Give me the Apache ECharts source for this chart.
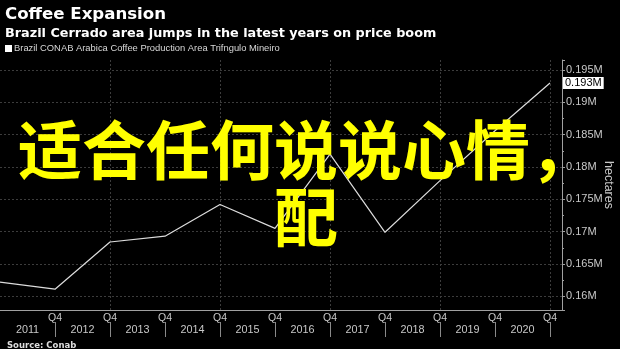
<!DOCTYPE html>
<html>
<head>
<meta charset="utf-8">
<script src="https://cdn.jsdelivr.net/npm/echarts@6/dist/echarts.min.js"></script>
<style>
html,body{margin:0;padding:0;background:#000;}
#c{width:620px;height:349px;}
</style>
</head>
<body>
<div id="c"></div>
<script>
// Data (Q4 of each year), million hectares
const years = [2010, 2011, 2012, 2013, 2014, 2015, 2016, 2017, 2018, 2019, 2020];
const areaValues = [0.1622, 0.1611, 0.1684, 0.1693, 0.1742, 0.1705, 0.1820, 0.1699, 0.1779, 0.1856, 0.1930];
const quarterTickYears = [2011, 2012, 2013, 2014, 2015, 2016, 2017, 2018, 2019, 2020];
const yearLabelPositions = [2010.5, 2011.5, 2012.5, 2013.5, 2014.5, 2015.5, 2016.5, 2017.5, 2018.5, 2019.5];
const yTickValues = [0.16, 0.165, 0.17, 0.175, 0.18, 0.185, 0.19, 0.195];
const seriesName = 'Brazil CONAB Arabica Coffee Production Area Trifngulo Mineiro';
const titleText = 'Coffee Expansion';
const subtitleText = 'Brazil Cerrado area jumps in the latest years on price boom';
const sourceText = 'Source: Conab';
const overlayText = '适合任何说说心情，\n配';

const X_MIN = 2010, X_MAX = 2020.218;
const Y_MIN = 0.15788, Y_MAX = 0.19655;

const fmtM = v => String(+(+v).toFixed(3)) + 'M';
const lastValue = areaValues[areaValues.length - 1];

const chart = echarts.init(document.getElementById('c'), null, {renderer: 'canvas'});
const gridCol = '#3c3c3c';
const axisCol = '#a0a0a0';
const txtCol = '#c8c8c8';

chart.setOption({
  backgroundColor: '#000',
  animation: false,
  title: [
    {text: titleText, left: 0, top: 1, textStyle: {color: '#fff', fontFamily: 'DejaVu Sans', fontWeight: 'bold', fontSize: 16.6}},
    {text: subtitleText, left: 0, top: 22, textStyle: {color: '#fff', fontFamily: 'DejaVu Sans', fontWeight: 'bold', fontSize: 12.8}},
    {text: sourceText, left: 2, top: 336, textStyle: {color: '#ddd', fontFamily: 'DejaVu Sans', fontWeight: 'bold', fontSize: 8.5}}
  ],
  legend: {
    left: 2, top: 44, icon: 'rect', itemWidth: 7, itemHeight: 7, itemGap: 4,
    padding: [0, 0, 0, 3],
    textStyle: {color: '#d8d8d8', fontFamily: 'Liberation Sans', fontSize: 9.4, padding: [0, 0, 0, -3]},
    data: [{name: seriesName, itemStyle: {color: '#fff'}}]
  },
  grid: {left: 0, right: 58, top: 60, bottom: 39, containLabel: false, outerBoundsMode: 'none'},
  xAxis: [
    {
      type: 'value', min: X_MIN, max: X_MAX, position: 'bottom',
      axisLine: {show: true, lineStyle: {color: axisCol, width: 1}},
      axisTick: {show: false},
      axisLabel: {color: txtCol, fontFamily: 'Liberation Sans', fontSize: 10.5, margin: 3,
        customValues: quarterTickYears, formatter: () => 'Q4'},
      splitLine: {show: true, showMinLine: false, showMaxLine: false, lineStyle: {color: gridCol, type: [2, 2], width: 1}}
    },
    {
      type: 'value', min: X_MIN, max: X_MAX, position: 'bottom', offset: 12,
      axisLine: {show: false},
      axisTick: {show: true, inside: false, length: 15, customValues: quarterTickYears, lineStyle: {color: '#8a8a8a'}},
      axisLabel: {color: txtCol, fontFamily: 'Liberation Sans', fontSize: 10.8, margin: 3,
        customValues: yearLabelPositions, formatter: v => String(Math.round(v + 0.5))},
      splitLine: {show: false}
    }
  ],
  yAxis: {
    type: 'value', min: Y_MIN, max: Y_MAX, position: 'right', splitNumber: 8,
    name: 'hectares', nameLocation: 'middle', nameRotate: -90, nameGap: 40, nameMoveOverlap: false,
    nameTextStyle: {color: txtCol, fontFamily: 'Liberation Sans', fontSize: 12.5},
    axisLine: {show: true, lineStyle: {color: axisCol, width: 1}},
    axisTick: {show: true, inside: false, length: 3, lineStyle: {color: axisCol}},
    minorTick: {show: true, splitNumber: 2, length: 2, lineStyle: {color: axisCol}},
    axisLabel: {color: txtCol, fontFamily: 'Liberation Sans', fontSize: 11, margin: 4,
      customValues: yTickValues, formatter: fmtM},
    splitLine: {show: true, showMinLine: false, showMaxLine: false, lineStyle: {color: gridCol, type: [2, 2], width: 1}},
    axisPointer: {
      show: true, value: lastValue, status: 'show', triggerTooltip: false, triggerOn: 'none',
      type: 'line', lineStyle: {opacity: 0},
      label: {show: true, backgroundColor: '#fff', color: '#000', fontFamily: 'Liberation Sans', fontSize: 11,
        padding: [1, 2, 0, 2], margin: 1, borderRadius: 0, shadowBlur: 0,
        formatter: p => fmtM(p.value)}
    }
  },
  series: [{
    name: seriesName, type: 'line', xAxisIndex: 0,
    data: years.map((y, i) => [y, areaValues[i]]),
    showSymbol: false, symbol: 'none',
    lineStyle: {color: '#dcdcdc', width: 1.2},
    itemStyle: {color: '#fff'}
  }],
  graphic: [{
    type: 'text', x: 306, y: 116, z: 100, silent: true,
    style: {text: overlayText, fill: '#ffff00', textAlign: 'center', textVerticalAlign: 'top',
      fontFamily: 'Noto Sans CJK SC', fontWeight: 'bold', fontSize: 64, lineHeight: 67}
  }]
});
</script>
</body>
</html>
